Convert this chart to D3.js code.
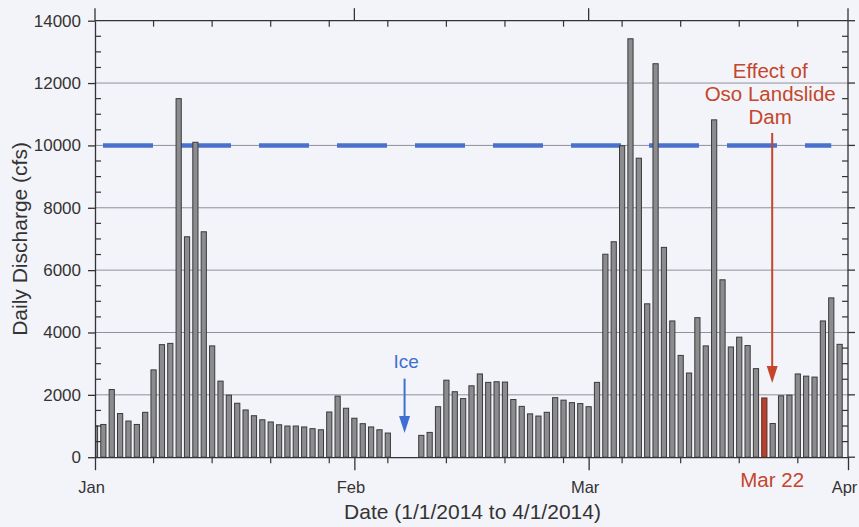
<!DOCTYPE html>
<html><head><meta charset="utf-8">
<script src="https://cdn.jsdelivr.net/npm/d3@7"></script>
<style>
body{margin:0;background:#f3f4f9;}
svg{display:block;font-family:"Liberation Sans",Arial,Helvetica,sans-serif;}
</style>
</head><body>
<svg id="c" width="859" height="527"></svg>
<script>
// ---------- data ----------
const startDate = "2014-01-01";
const endDate = "2014-04-01";
const janValues = [1000,1050,2170,1400,1160,1050,1440,2800,3610,3650,11500,7070,10100,7230,3570,2440,1990,1730,1515,1330,1200,1130,1040,1000,1000,970,915,880,1450,1960,1570];
const febValues = [1250,1075,970,880,775,null,null,null,700,795,1620,2470,2100,1880,2290,2670,2400,2420,2410,1850,1630,1390,1320,1440,1910,1830,1750,1720];
const marValues = [1620,2400,6510,6910,9990,13420,9590,4920,12620,6730,4370,3265,2700,4475,3570,10820,5690,3535,3850,3580,2840,1900,1080,1970,1990,2670,2600,2570,4370,5110,3620];
const yTickValues = [0,2000,4000,6000,8000,10000,12000,14000];
const gridValues = [2000,4000,6000,8000,10000,12000];
const monthLabels = ["Jan","Feb","Mar","Apr"];
const thresholdValue = 10000;
const iceDate = "2014-02-07";
const damDate = "2014-03-22";
const damArrowDate = "2014-03-23";
const damLabel = ["Effect of","Oso Landslide","Dam"];
const damDateLabel = "Mar 22";
const iceLabel = "Ice";
const xTitle = "Date (1/1/2014 to 4/1/2014)";
const yTitle = "Daily Discharge (cfs)";

// ---------- setup ----------
const parse = d3.utcParse("%Y-%m-%d");
const t0 = parse(startDate), t1 = parse(endDate);
const days = d3.utcDay.range(t0, t1);
const values = janValues.concat(febValues, marValues);
const data = days.map((d,i)=>({date:d, value:values[i]}));

const L = 95, R = 848, T = 20.7, B = 457.2;
const x = d3.scaleUtc().domain([t0,t1]).range([L,R]);
const y = d3.scaleLinear().domain([0,14000]).range([B,T]);

const svg = d3.select("#c");
const ink = "#333";
svg.append("rect").attr("width",859).attr("height",527).attr("fill","#f3f4f9");

// gridlines
svg.append("g").selectAll("line").data(gridValues).join("line")
  .attr("x1",L).attr("x2",R).attr("y1",d=>y(d)).attr("y2",d=>y(d))
  .attr("stroke","#8f909c").attr("stroke-width",1);

// threshold dashed line
svg.append("line")
  .attr("x1",x(t0)+8).attr("x2",x(parse("2014-03-30")))
  .attr("y1",y(thresholdValue)).attr("y2",y(thresholdValue))
  .attr("stroke","#4a72cc").attr("stroke-width",4.5)
  .attr("stroke-dasharray","50,28");

// bars
svg.append("clipPath").attr("id","clip").append("rect")
  .attr("x",L).attr("y",0).attr("width",R-L).attr("height",B);
const bw = 5.2;
svg.append("g").attr("clip-path","url(#clip)")
  .selectAll("rect").data(data.filter(d=>d.value!=null)).join("rect")
  .attr("x",d=>x(d.date)-bw/2).attr("width",bw)
  .attr("y",d=>y(d.value)).attr("height",d=>B-y(d.value))
  .attr("fill",d=>+d.date===+parse(damDate)?"#b5432d":"#8c8c8e")
  .attr("stroke",d=>+d.date===+parse(damDate)?"#5e2a20":"#3a3a3c")
  .attr("stroke-width",1);

// ---------- axes ----------
const months = d3.utcMonth.range(t0, d3.utcDay.offset(t1,1));
const weeks = d3.utcWednesday.range(t0, t1).filter(d=>d.getUTCDate()!==1);

// bottom axis (labels)
const xAxis = svg.append("g").attr("transform",`translate(0,${B})`)
  .call(d3.axisBottom(x).tickValues(months).tickSize(13).tickSizeOuter(0).tickPadding(11.5)
        .tickFormat((d,i)=>monthLabels[i]));
xAxis.attr("font-family",null).attr("font-size",null);
xAxis.select(".domain").attr("stroke",ink).attr("stroke-width",1.3);
xAxis.selectAll(".tick line").attr("stroke",ink).attr("stroke-width",1.3);
xAxis.selectAll("text").attr("font-size",16.5).attr("fill",ink).attr("dx",-4);

// bottom minor ticks
svg.append("g").selectAll("line").data(weeks).join("line")
  .attr("x1",d=>x(d)).attr("x2",d=>x(d)).attr("y1",B).attr("y2",B+6)
  .attr("stroke",ink).attr("stroke-width",1.2);
// top axis line + ticks
svg.append("line").attr("x1",L).attr("x2",R).attr("y1",T).attr("y2",T).attr("stroke",ink).attr("stroke-width",1.3);
svg.append("g").selectAll("line").data(weeks).join("line")
  .attr("x1",d=>x(d)).attr("x2",d=>x(d)).attr("y1",T).attr("y2",T+6)
  .attr("stroke",ink).attr("stroke-width",1.2);
svg.append("g").selectAll("line").data(months).join("line")
  .attr("x1",d=>x(d)).attr("x2",d=>x(d)).attr("y1",T).attr("y2",T-12.5)
  .attr("stroke",ink).attr("stroke-width",1.3);

// left axis
const yAxis = svg.append("g").attr("transform",`translate(${L},0)`)
  .call(d3.axisLeft(y).tickValues(yTickValues).tickSize(7).tickSizeOuter(0).tickPadding(7).tickFormat(d3.format("d")));
yAxis.attr("font-family",null).attr("font-size",null);
yAxis.select(".domain").attr("stroke",ink).attr("stroke-width",1.3);
yAxis.selectAll(".tick line").attr("stroke",ink).attr("stroke-width",1.3);
yAxis.selectAll("text").attr("font-size",17).attr("fill",ink);

const minorY = d3.range(500,14000,500).filter(v=>v%2000!==0);
svg.append("g").selectAll("line").data(minorY).join("line")
  .attr("x1",L).attr("x2",L+6).attr("y1",d=>y(d)).attr("y2",d=>y(d))
  .attr("stroke",ink).attr("stroke-width",1.2);
// right axis
svg.append("line").attr("x1",R).attr("x2",R).attr("y1",T).attr("y2",B).attr("stroke",ink).attr("stroke-width",1.3);
svg.append("g").selectAll("line").data(minorY).join("line")
  .attr("x1",R-6).attr("x2",R).attr("y1",d=>y(d)).attr("y2",d=>y(d))
  .attr("stroke",ink).attr("stroke-width",1.2);
svg.append("g").selectAll("line").data(yTickValues).join("line")
  .attr("x1",R).attr("x2",R+7).attr("y1",d=>y(d)).attr("y2",d=>y(d))
  .attr("stroke",ink).attr("stroke-width",1.3);

// titles
svg.append("text").attr("x",(L+R)/2+1).attr("y",518.5).attr("text-anchor","middle")
  .attr("font-size",21).attr("fill",ink).text(xTitle);
svg.append("text").attr("transform",`translate(27,${(T+B)/2}) rotate(-90)`).attr("text-anchor","middle")
  .attr("font-size",21).attr("fill",ink).text(yTitle);

// ---------- annotations ----------
function arrow(g, xp, y0, y1, color){
  g.append("line").attr("x1",xp).attr("x2",xp).attr("y1",y0).attr("y2",y1-15)
    .attr("stroke",color).attr("stroke-width",2);
  g.append("path").attr("d",`M${xp-5.5},${y1-17}L${xp+5.5},${y1-17}L${xp},${y1}Z`).attr("fill",color);
}
const blue = "#3f6fd0", red = "#c4462c";
const ix = x(parse(iceDate));
arrow(svg, ix, y(2520), y(780), blue);
svg.append("text").attr("x",ix+1.5).attr("y",y(2850)).attr("text-anchor","middle")
  .attr("font-size",19).attr("fill",blue).text(iceLabel);

const dx = x(parse(damArrowDate)) - 0.5;
arrow(svg, dx, y(10400), y(2380), red);
svg.append("text").attr("text-anchor","middle").attr("fill",red).attr("font-size",20.5)
  .selectAll("tspan").data(damLabel).join("tspan")
  .attr("x",dx-2).attr("y",(d,i)=>77.7+i*23.3).text(d=>d);
svg.append("text").attr("x",dx).attr("y",486.5).attr("text-anchor","middle")
  .attr("font-size",20.5).attr("fill",red).text(damDateLabel);
</script>
</body></html>
